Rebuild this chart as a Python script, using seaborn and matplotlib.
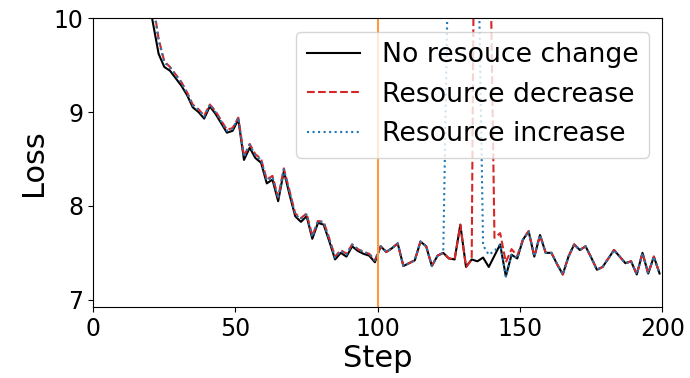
import pandas as pd
import matplotlib
matplotlib.use("Agg")
import matplotlib.pyplot as plt
import seaborn as sns

# Training steps (logged every 2 steps)
steps = list(range(1, 201, 2))

# Loss with no resource change (steps 1..199)
no_change = [
    11.90, 11.70, 11.52, 11.35, 11.18, 11.02, 10.86, 10.70, 10.52, 10.30,
    9.95, 9.62, 9.48, 9.44, 9.36, 9.28, 9.18, 9.05, 9.00, 8.93,
    9.06, 8.98, 8.88, 8.78, 8.80, 8.92, 8.49, 8.62, 8.51, 8.46,
    8.24, 8.28, 8.05, 8.37, 8.12, 7.89, 7.83, 7.89, 7.65, 7.82,
    7.80, 7.62, 7.43, 7.50, 7.46, 7.57, 7.52, 7.49, 7.47, 7.40,
    7.57, 7.51, 7.55, 7.60, 7.36, 7.39, 7.42, 7.62, 7.57, 7.36,
    7.47, 7.50, 7.44, 7.43, 7.80, 7.35, 7.43, 7.41, 7.45, 7.35,
    7.47, 7.59, 7.25, 7.48, 7.44, 7.64, 7.73, 7.46, 7.69, 7.50,
    7.50, 7.38, 7.27, 7.46, 7.59, 7.53, 7.57, 7.45, 7.32, 7.35,
    7.44, 7.53, 7.46, 7.39, 7.41, 7.27, 7.50, 7.28, 7.46, 7.28,
]

# Resource decrease: first 100 steps (1..99) and the spike (135..149)
decrease_early = [
    12.10, 11.90, 11.72, 11.55, 11.38, 11.22, 11.06, 10.90, 10.72, 10.52,
    10.18, 9.78, 9.54, 9.48, 9.40, 9.32, 9.21, 9.08, 9.03, 8.96,
    9.08, 9.01, 8.91, 8.81, 8.83, 8.94, 8.53, 8.66, 8.55, 8.50,
    8.28, 8.32, 8.09, 8.40, 8.16, 7.92, 7.87, 7.92, 7.68, 7.84,
    7.83, 7.65, 7.46, 7.53, 7.49, 7.59, 7.54, 7.51, 7.49, 7.42,
]
decrease_spike = [16.0, 14.0, 11.8, 7.66, 7.71, 7.40, 7.54, 7.47]

# Resource increase: first 100 steps (1..99) and the spike (125..143)
increase_early = [
    12.08, 11.88, 11.70, 11.53, 11.36, 11.20, 11.04, 10.88, 10.70, 10.50,
    10.15, 9.76, 9.53, 9.47, 9.39, 9.31, 9.20, 9.07, 9.02, 8.95,
    9.08, 9.00, 8.90, 8.80, 8.82, 8.94, 8.52, 8.65, 8.54, 8.49,
    8.27, 8.31, 8.08, 8.39, 8.15, 7.91, 7.86, 7.91, 7.67, 7.84,
    7.82, 7.64, 7.45, 7.52, 7.48, 7.59, 7.54, 7.51, 7.49, 7.42,
]
increase_spike = [11.1, 11.5, 11.5, 11.5, 11.5, 11.3, 7.58, 7.48, 7.52, 7.59]

decrease = decrease_early + no_change[50:67] + decrease_spike + no_change[75:]
increase = increase_early + no_change[50:62] + increase_spike + no_change[72:]

labels = ["No resouce change", "Resource decrease", "Resource increase"]
df = pd.concat([
    pd.DataFrame({"Step": steps, "Loss": no_change, "run": labels[0]}),
    pd.DataFrame({"Step": steps, "Loss": decrease, "run": labels[1]}),
    pd.DataFrame({"Step": steps, "Loss": increase, "run": labels[2]}),
])

fig, ax = plt.subplots(figsize=(6.9, 3.78), dpi=100)
sns.lineplot(data=df, x="Step", y="Loss", hue="run", style="run",
             palette={labels[0]: "black", labels[1]: "tab:red", labels[2]: "tab:blue"},
             dashes={labels[0]: "", labels[1]: (3.7, 1.6), labels[2]: (1, 1.65)},
             linewidth=1.5, ax=ax)

# point where the resource change happens
ax.axvline(100, color="#ff9a3c", linewidth=1.5)

ax.set_xlim(0, 200)
ax.set_ylim(6.92, 10)
ax.set_xticks([0, 50, 100, 150, 200])
ax.set_yticks([7, 8, 9, 10])
ax.tick_params(labelsize=17)
ax.set_xlabel("Step", fontsize=22, labelpad=2)
ax.set_ylabel("Loss", fontsize=22)

sns.move_legend(ax, "upper right", title=None, fontsize=19.3)

fig.subplots_adjust(left=0.135, right=0.96, top=0.952, bottom=0.187)
fig.savefig("out.png")
